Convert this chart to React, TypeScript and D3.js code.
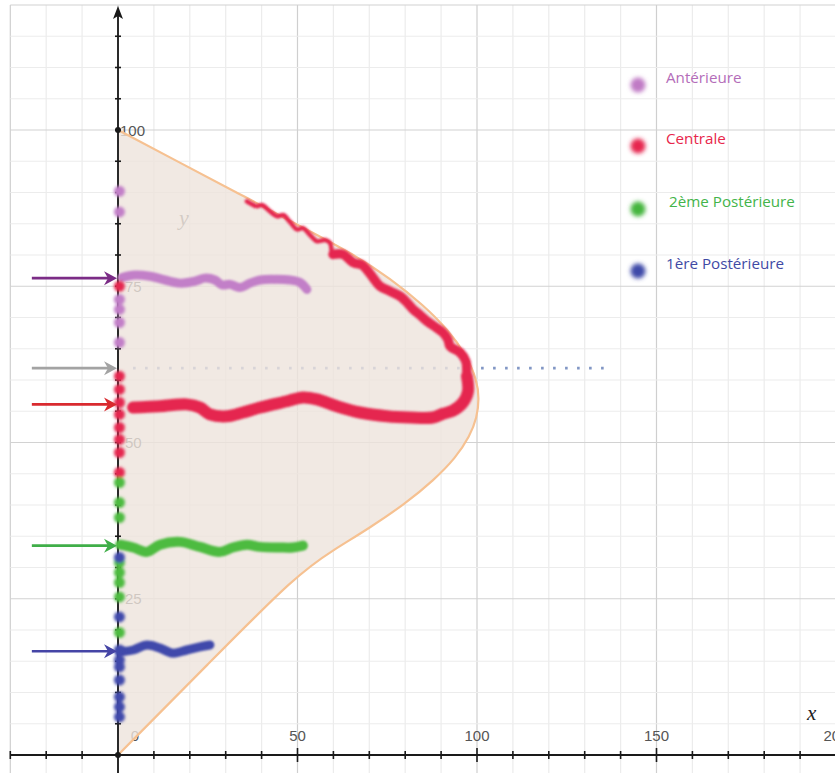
import React from 'react';
import * as d3 from 'd3';

const W = 835;
const H = 773;

// ---- axis ticks ----
const xTickValues = [0, 50, 100, 150, 200];
const yTickValues = [25, 50, 75, 100];

// ---- shaded envelope (parabola-like boundary) ----
const boundaryX = [0, 16, 35.4, 54.4, 65, 76, 85, 92, 97, 100, 100.6, 100, 98, 94, 88, 80, 70, 60, 50, 25, 0];
const boundaryY = [100, 95.15, 89.3, 83.5, 80.3, 76.2, 72, 68, 64, 60, 57, 54, 51, 47.5, 44, 40.2, 36.3, 32.8, 29, 14.5, 0];

// ---- series traces ----
const anterieureX = [1.1, 4.7, 8.9, 13.1, 17.3, 21.4, 24.2, 27.0, 29.0, 31.2, 34.0, 36.8, 39.6, 43.7, 47.9, 50.7, 52.6];
const anterieureY = [76.4, 76.8, 76.6, 76.0, 75.5, 75.8, 76.3, 76.0, 75.2, 75.3, 74.8, 75.5, 76.0, 76.1, 76.0, 75.6, 74.5];

const centraleX = [35.9, 38.7, 40.1, 42.3, 44.3, 46.0, 47.9, 49.9, 51.5, 53.5, 55.4, 57.7, 59.1, 59.9, 62.7, 65.5, 68.0, 69.4, 71.0, 73.0,
  75.8, 78.6, 80.5, 82.2, 84.1, 86.1, 88.6, 90.5, 91.9, 92.5, 95.3, 96.9, 97.2, 97.5, 96.1, 93.3, 90.5, 87.7, 81.3, 74.9,
  67.4, 61.0, 55.4, 51.5, 47.1, 39.6, 34.8, 30.4, 25.6, 22.8, 19.2, 11.7, 4.2];
const centraleY = [88.6, 87.8, 88.0, 87.0, 86.2, 86.4, 85.3, 84.1, 84.3, 83.2, 82.2, 82.4, 81.9, 80.1, 80.1, 78.8, 78.4, 77.6, 76.4, 75.0,
  74.2, 73.4, 72.4, 71.3, 70.4, 69.4, 68.4, 67.6, 66.5, 65.4, 64.4, 63.0, 60.6, 58.2, 56.4, 55.1, 54.6, 54.0, 54.0, 54.2,
  54.8, 55.8, 56.9, 57.2, 56.6, 55.6, 54.8, 54.2, 54.5, 55.6, 56.1, 55.8, 55.6];

const post2X = [0.6, 4.2, 8.1, 11.7, 17.3, 22.8, 28.4, 32.0, 35.9, 39.6, 45.1, 48.7, 51.5];
const post2Y = [33.65, 33.2, 32.5, 33.65, 34.1, 33.3, 32.5, 33.2, 33.65, 33.3, 33.2, 33.2, 33.5];

const post1X = [0.6, 4.2, 8.1, 11.7, 15.3, 19.2, 22.8, 25.6];
const post1Y = [16.5, 16.8, 17.6, 17.1, 16.3, 16.8, 17.3, 17.6];

// ---- dots placed along the y axis ----
const anterieureDots = [90.2, 86.9, 72.9, 71.3, 69.2, 66.0];
const centraleDots = [75.0, 60.6, 58.5, 56.4, 54.5, 52.4, 50.5, 48.4, 45.2];
const post2Dots = [43.6, 40.4, 38.0, 30.8, 29.2, 27.6, 25.3, 19.6];
const post1Dots = [31.6, 22.1, 16.8, 15.2, 14.1, 12.0, 9.3, 7.7, 6.1];

// ---- arrows pointing at the y axis ----
const arrowLevels = [76.3, 61.9, 56.1, 33.5, 16.6];
const arrowColors = ['#7b2c86', '#a3a3a3', '#d92a2f', '#3fae48', '#4545a6'];
const arrowStartX = -24;

// ---- dotted reference line ----
const dottedLevel = 61.9;
const dottedFrom = 4.2;
const dottedTo = 136;

// ---- legend ----
const legendNames = ['Antérieure', 'Centrale', '2ème Postérieure', '1ère Postérieure'];
const legendDotColors = ['#c07ac5', '#e6274f', '#45b53d', '#3e48a8'];
const legendTextColors = ['#b46db9', '#e8264a', '#43b44a', '#3f4aa5'];

const C_ANT = '#c27fc8';
const C_CEN = '#e5284f';
const C_P2 = '#4dbb3f';
const C_P1 = '#4049ab';

export default function App() {
  const x = d3.scaleLinear().domain([0, 200]).range([118, 836]);
  const y = d3.scaleLinear().domain([0, 100]).range([755, 130]);

  const line = d3.line<[number, number]>()
    .x(d => x(d[0]))
    .y(d => y(d[1]))
    .curve(d3.curveCatmullRom.alpha(0.5));

  const zip = (xs: number[], ys: number[]) => xs.map((v, i) => [v, ys[i]] as [number, number]);

  const boundaryPath = d3.line<[number, number]>()
    .x(d => x(d[0]))
    .y(d => y(d[1]))
    .curve(d3.curveBasis)(zip(boundaryX, boundaryY)) || '';

  const cen = zip(centraleX, centraleY);

  const gridX = d3.range(-30, 201, 10);
  const gridY = d3.range(0, 121, 5);
  const axisTicksX = d3.range(-30, 201, 10).filter(v => v !== 0);
  const axisTicksY = d3.range(5, 120, 5);

  const dotSets: { vals: number[]; color: string }[] = [
    { vals: anterieureDots, color: C_ANT },
    { vals: centraleDots, color: C_CEN },
    { vals: post2Dots, color: C_P2 },
    { vals: post1Dots, color: C_P1 },
  ];

  const legendY = [83, 144, 207, 269];

  return (
    <svg width={W} height={H} viewBox={`0 0 ${W} ${H}`}
      style={{ position: 'absolute', left: 0, top: 0, background: '#ffffff' }}>
      <defs>
        <filter id="soft" filterUnits="userSpaceOnUse" x={0} y={0} width={W} height={H}>
          <feGaussianBlur stdDeviation={1.5} />
        </filter>
        <filter id="softLine" filterUnits="userSpaceOnUse" x={0} y={0} width={W} height={H}>
          <feGaussianBlur stdDeviation={0.8} />
        </filter>
        <filter id="softLegend" filterUnits="userSpaceOnUse" x={0} y={0} width={W} height={H}>
          <feGaussianBlur stdDeviation={2.2} />
        </filter>
      </defs>
      <rect x={0} y={0} width={W} height={H} fill="#ffffff" />

      {/* grid */}
      <g>
        {gridX.map(v => (
          <line key={'gx' + v} x1={x(v)} x2={x(v)} y1={y(120)} y2={H}
            stroke={v % 50 === 0 || v === -30 ? '#cfcfcf' : '#ececec'} strokeWidth={1.2} />
        ))}
        {gridY.map(v => (
          <line key={'gy' + v} x1={x(-30)} x2={W} y1={y(v)} y2={y(v)}
            stroke={v % 25 === 0 || v === 120 ? '#d2d2d2' : '#ececec'} strokeWidth={1.2} />
        ))}
      </g>

      {/* dotted reference line (under the envelope) */}
      <line x1={x(dottedFrom)} x2={x(dottedTo)} y1={y(dottedLevel)} y2={y(dottedLevel)}
        stroke="#8196c4" strokeWidth={2.6} strokeDasharray="2.6 9.4" />

      {/* tick labels (under the envelope so they look faded inside it) */}
      <g fontFamily="'Liberation Sans', Arial, sans-serif" fontSize={15} fill="#555">
        {xTickValues.map(v => (
          <text key={'xl' + v} x={v === 0 ? x(v) + 17 : x(v)} y={741} textAnchor="middle">{v}</text>
        ))}
        {yTickValues.map(v => (
          <text key={'yl' + v} x={v === 100 ? x(0) + 2 : x(0) + 7} y={y(v) + 5.5} textAnchor="start">{v}</text>
        ))}
      </g>
      <text x={179} y={225} fontFamily="'Liberation Serif', 'DejaVu Serif', serif" fontStyle="italic"
        fontSize={22} fill="#6a6a6a">y</text>

      {/* envelope */}
      <path d={boundaryPath} fill="#ede3dc" fillOpacity={0.8} stroke="#f6c191" strokeWidth={2.2} />

      {/* axes */}
      <line x1={x(-30)} x2={W} y1={y(0)} y2={y(0)} stroke="#1a1a1a" strokeWidth={2.2} />
      <line x1={x(0)} x2={x(0)} y1={12} y2={H} stroke="#2a2a2a" strokeWidth={2} />
      <path d={`M${x(0)},6 L${x(0) + 5},19 L${x(0)},16 L${x(0) - 5},19 Z`} fill="#1a1a1a" />
      {axisTicksX.map(v => (
        <line key={'tx' + v} x1={x(v)} x2={x(v)}
          y1={y(0) - (v % 50 === 0 ? 7 : 4)} y2={y(0) + (v % 50 === 0 ? 7 : 4)}
          stroke="#1a1a1a" strokeWidth={1.6} />
      ))}
      {axisTicksY.map(v => (
        <line key={'ty' + v} x1={x(0) - 3} x2={x(0) + 3} y1={y(v)} y2={y(v)}
          stroke="#1a1a1a" strokeWidth={1.6} />
      ))}
      <circle cx={x(0)} cy={y(100)} r={3} fill="#1a1a1a" />
      <circle cx={x(0)} cy={y(0)} r={3} fill="#1a1a1a" />

      <text x={807} y={720} fontFamily="'Liberation Serif', 'DejaVu Serif', serif" fontStyle="italic"
        fontSize={21} fill="#222">x</text>

      {/* series traces */}
      <g filter="url(#softLine)" strokeLinecap="round" strokeLinejoin="round" fill="none">
        <path d={line(zip(anterieureX, anterieureY)) || ''} stroke={C_ANT} strokeWidth={9} />
        <path d={line(zip(post2X, post2Y)) || ''} stroke={C_P2} strokeWidth={10} />
        <path d={line(zip(post1X, post1Y)) || ''} stroke={C_P1} strokeWidth={9} />
        <path d={line(cen.slice(0, 15)) || ''} stroke={C_CEN} strokeWidth={4.5} />
        <path d={line(cen.slice(13, 35)) || ''} stroke={C_CEN} strokeWidth={9.5} />
        <path d={line(cen.slice(32)) || ''} stroke={C_CEN} strokeWidth={12} />
      </g>

      {/* dots on the y axis */}
      <g filter="url(#soft)">
        {dotSets.map((s, si) => s.vals.map((v, i) => (
          <circle key={`d${si}-${i}`} cx={x(0.4)} cy={y(v)} r={5.5} fill={s.color} />
        )))}
      </g>

      {/* arrows */}
      {arrowLevels.map((lv, i) => {
        const yy = y(lv);
        const x1 = x(arrowStartX);
        const x2 = x(0) - 1;
        return (
          <g key={'ar' + i}>
            <line x1={x1} x2={x2 - 6} y1={yy} y2={yy} stroke={arrowColors[i]} strokeWidth={2.6} />
            <path d={`M${x2},${yy} L${x2 - 13},${yy - 7} L${x2 - 9},${yy} L${x2 - 13},${yy + 7} Z`}
              fill={arrowColors[i]} />
          </g>
        );
      })}

      {/* legend */}
      <g>
        {legendNames.map((n, i) => (
          <g key={'lg' + i}>
            <circle cx={638} cy={legendY[i] + 2} r={7.5} fill={legendDotColors[i]} filter="url(#softLegend)" />
            <text x={i === 2 ? 669 : 666} y={legendY[i]} fontFamily="'Open Sans', 'Noto Sans', sans-serif"
              fontSize={15.2} fill={legendTextColors[i]}>{n}</text>
          </g>
        ))}
      </g>
    </svg>
  );
}
